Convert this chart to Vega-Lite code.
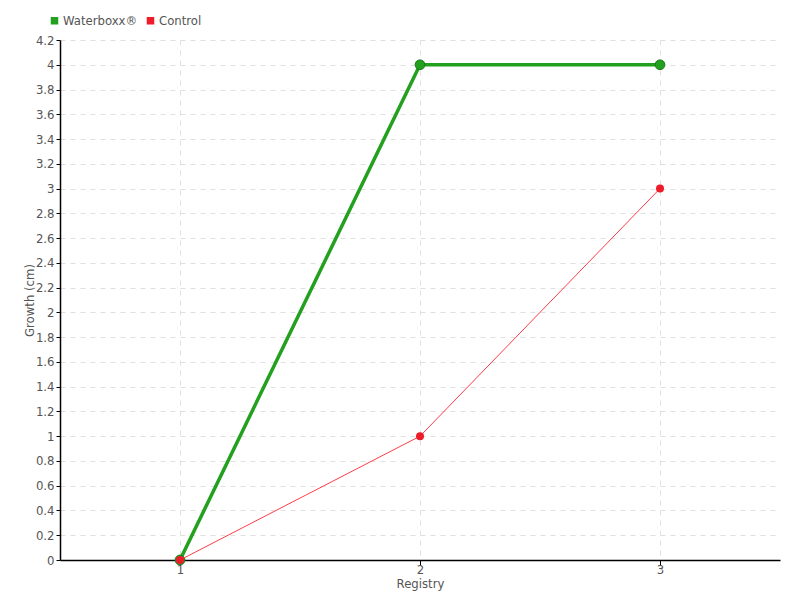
{
  "$schema": "https://vega.github.io/schema/vega-lite/v6.json",
  "width": 720,
  "height": 520,
  "autosize": {"type": "none"},
  "padding": {"left": 60, "top": 40, "right": 20, "bottom": 40},
  "background": "white",
  "config": {
    "view": {"stroke": null},
    "font": "DejaVu Sans Condensed, DejaVu Sans",
    "axis": {
      "labelFont": "DejaVu Sans Condensed, DejaVu Sans",
      "titleFont": "DejaVu Sans Condensed, DejaVu Sans",
      "labelColor": "#555555",
      "titleColor": "#555555",
      "labelFontSize": 13,
      "titleFontSize": 13,
      "titleFontWeight": "normal",
      "domainColor": "#000000",
      "domainWidth": 1.5,
      "tickColor": "#000000",
      "gridColor": "#e0e0e0",
      "gridDash": [5, 5],
      "gridWidth": 1
    }
  },
  "data": {
    "values": [
      {"registry": 1, "growth": 0, "series": "Waterboxx®"},
      {"registry": 2, "growth": 4, "series": "Waterboxx®"},
      {"registry": 3, "growth": 4, "series": "Waterboxx®"},
      {"registry": 1, "growth": 0, "series": "Control"},
      {"registry": 2, "growth": 1, "series": "Control"},
      {"registry": 3, "growth": 3, "series": "Control"}
    ]
  },
  "encoding": {
    "x": {
      "field": "registry",
      "type": "quantitative",
      "scale": {"domain": [0.5, 3.5], "nice": false, "zero": false},
      "axis": {"values": [1, 2, 3], "title": "Registry", "titlePadding": 1, "labelPadding": -2, "tickSize": 5, "format": "d"}
    },
    "y": {
      "field": "growth",
      "type": "quantitative",
      "scale": {"domain": [0, 4.2], "nice": false},
      "axis": {
        "values": [0, 0.2, 0.4, 0.6, 0.8, 1, 1.2, 1.4, 1.6, 1.8, 2, 2.2, 2.4, 2.6, 2.8, 3, 3.2, 3.4, 3.6, 3.8, 4, 4.2],
        "format": ".1~f",
        "title": "Growth (cm)",
        "titlePadding": -1,
        "tickSize": 4,
        "labelPadding": 2,
        "labelSeparation": 0,
        "labelOverlap": false
      }
    },
    "color": {
      "field": "series",
      "type": "nominal",
      "scale": {"domain": ["Waterboxx®", "Control"], "range": ["#22a01e", "#ee1c2a"]},
      "legend": {
        "title": null,
        "orient": "none",
        "legendX": -12,
        "legendY": -26,
        "direction": "horizontal",
        "symbolType": "square",
        "symbolSize": 36,
        "labelFontSize": 13,
        "labelColor": "#555555",
        "labelFont": "DejaVu Sans Condensed, DejaVu Sans",
        "columnPadding": 6,
        "symbolOffset": 0,
        "labelOffset": 2
      }
    }
  },
  "layer": [
    {
      "transform": [{"filter": "datum.series === 'Waterboxx®'"}],
      "mark": {"type": "line", "strokeWidth": 3.5}
    },
    {
      "transform": [{"filter": "datum.series === 'Waterboxx®'"}],
      "mark": {"type": "point", "filled": true, "size": 95, "opacity": 1, "stroke": "#1a7a18", "strokeWidth": 1}
    },
    {
      "transform": [{"filter": "datum.series === 'Control'"}],
      "mark": {"type": "line", "strokeWidth": 1},
      "encoding": {"color": {"value": "#ff3c48"}}
    },
    {
      "transform": [{"filter": "datum.series === 'Control'"}],
      "mark": {"type": "point", "filled": true, "size": 64, "opacity": 1}
    }
  ]
}
